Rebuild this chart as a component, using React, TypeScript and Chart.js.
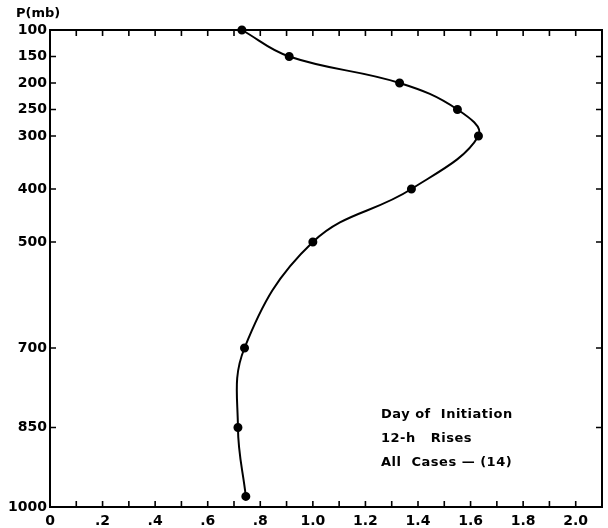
import React, { useEffect, useRef } from 'react';
import { Chart, registerables } from 'chart.js';

Chart.register(...registerables);

// Data
const pressureLevels = [100, 150, 200, 250, 300, 400, 500, 700, 850, 980];
const ratioValues = [0.73, 0.91, 1.33, 1.55, 1.63, 1.375, 1.0, 0.74, 0.715, 0.745];

const yTickValues = [100, 150, 200, 250, 300, 400, 500, 700, 850, 1000];
const yTickLabels = ['100', '150', '200', '250', '300', '400', '500', '700', '850', '1000'];
const xTickValues = [0, 0.1, 0.2, 0.3, 0.4, 0.5, 0.6, 0.7, 0.8, 0.9, 1.0, 1.1, 1.2, 1.3, 1.4, 1.5, 1.6, 1.7, 1.8, 1.9, 2.0];
const xLabelValues = [0, 0.2, 0.4, 0.6, 0.8, 1.0, 1.2, 1.4, 1.6, 1.8, 2.0];
const xTickLabels = ['0', '.2', '.4', '.6', '.8', '1.0', '1.2', '1.4', '1.6', '1.8', '2.0'];
const yAxisTitle = 'P(mb)';
const legendLines = ['Day of  Initiation', '12-h   Rises', 'All  Cases \u2014 (14)'];

const FONT = 'bold 14px "DejaVu Sans", sans-serif';

const framePlugin = {
  id: 'framePlugin',
  afterDraw(chart: any) {
    const { ctx, chartArea } = chart;
    const xs = chart.scales.x;
    const ys = chart.scales.y;
    const { left, right, top, bottom } = chartArea;
    ctx.save();
    ctx.strokeStyle = '#000';
    ctx.lineWidth = 2;
    ctx.strokeRect(left, top, right - left, bottom - top);
    ctx.lineWidth = 1.6;
    ctx.beginPath();
    xTickValues.forEach((v) => {
      const px = xs.getPixelForValue(v);
      ctx.moveTo(px, bottom);
      ctx.lineTo(px, bottom - 6);
      ctx.moveTo(px, top);
      ctx.lineTo(px, top + 6);
    });
    yTickValues.forEach((v) => {
      const py = ys.getPixelForValue(v);
      ctx.moveTo(left, py);
      ctx.lineTo(left + 6, py);
      ctx.moveTo(right, py);
      ctx.lineTo(right - 6, py);
    });
    ctx.stroke();

    ctx.fillStyle = '#000';
    ctx.font = FONT;
    ctx.textAlign = 'right';
    ctx.textBaseline = 'middle';
    yTickValues.forEach((v, i) => {
      ctx.fillText(yTickLabels[i], left - 3, ys.getPixelForValue(v));
    });
    ctx.textAlign = 'center';
    xLabelValues.forEach((v, i) => {
      ctx.fillText(xTickLabels[i], xs.getPixelForValue(v), bottom + 14);
    });
    ctx.textAlign = 'left';
    ctx.font = 'bold 13px "DejaVu Sans", sans-serif';
    ctx.fillText(yAxisTitle, 16, 14);

    (ctx as any).letterSpacing = '0.5px';
    legendLines.forEach((t, i) => {
      ctx.fillText(t, 381, 415 + i * 24);
    });
    ctx.restore();
  },
};

export default function App() {
  const ref = useRef<HTMLCanvasElement | null>(null);
  useEffect(() => {
    if (!ref.current) return;
    const chart = new Chart(ref.current, {
      type: 'scatter',
      data: {
        datasets: [
          {
            data: pressureLevels.map((p, i) => ({ x: ratioValues[i], y: p })),
            showLine: true,
            borderColor: '#000',
            borderWidth: 2,
            tension: 0.4,
            pointRadius: 3.5,
            pointBackgroundColor: '#000',
            pointBorderColor: '#000',
            clip: false as any,
          },
        ],
      },
      options: {
        responsive: false,
        animation: false,
        layout: { padding: { left: 50, right: 3, top: 30, bottom: 21 } },
        plugins: { legend: { display: false }, tooltip: { enabled: false } },
        scales: {
          x: { type: 'linear', min: 0, max: 2.1, display: false },
          y: { type: 'linear', min: 100, max: 1000, reverse: true, display: false },
        },
      },
      plugins: [framePlugin],
    });
    return () => chart.destroy();
  }, []);
  return (
    <div style={{ position: 'absolute', left: 0, top: 0, width: 608, height: 528, background: '#fff' }}>
      <canvas ref={ref} width={608} height={528} />
    </div>
  );
}
